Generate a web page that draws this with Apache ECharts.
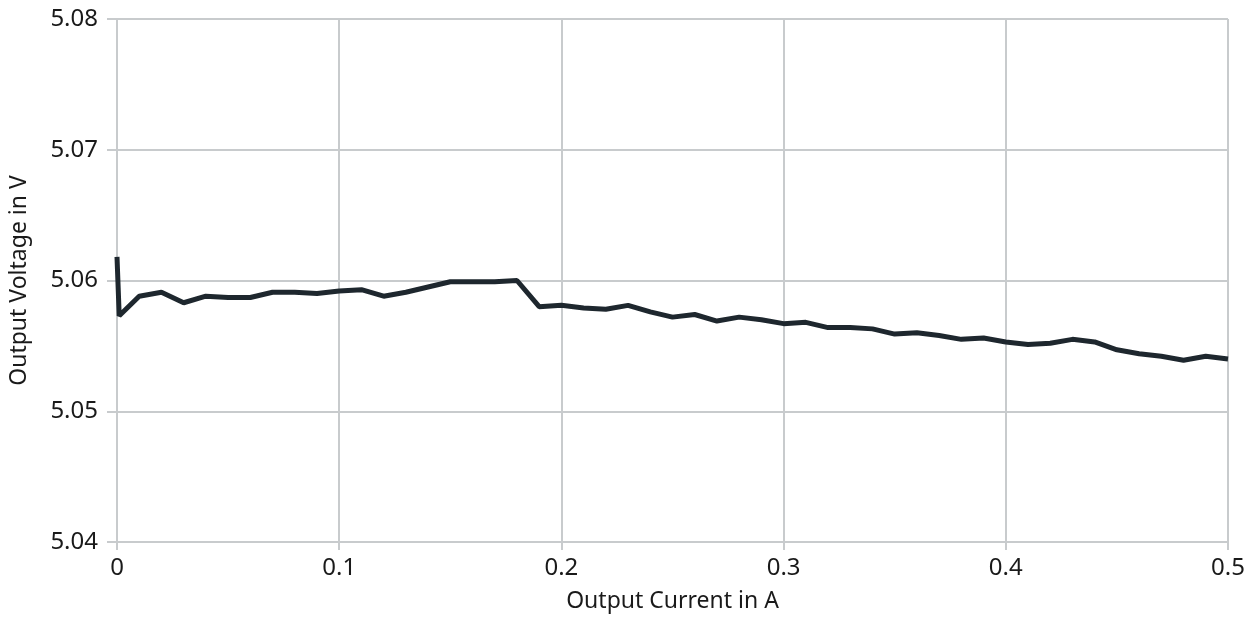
<!DOCTYPE html>
<html>
<head>
<meta charset="utf-8">
<script src="https://cdn.jsdelivr.net/npm/echarts@6/dist/echarts.min.js"></script>
<style>
  html, body { margin: 0; padding: 0; background: #fff; }
  #chart { width: 1255px; height: 624px; }
</style>
</head>
<body>
<div id="chart"></div>
<script>
// output current in A
var current = [0, 0.001, 0.01, 0.02, 0.03, 0.04, 0.05, 0.06, 0.07, 0.08, 0.09,
  0.10, 0.11, 0.12, 0.13, 0.14, 0.15, 0.16, 0.17, 0.18, 0.19,
  0.20, 0.21, 0.22, 0.23, 0.24, 0.25, 0.26, 0.27, 0.28, 0.29,
  0.30, 0.31, 0.32, 0.33, 0.34, 0.35, 0.36, 0.37, 0.38, 0.39,
  0.40, 0.41, 0.42, 0.43, 0.44, 0.45, 0.46, 0.47, 0.48, 0.49, 0.50];

// output voltage in V
var voltage = [5.0618, 5.0573, 5.0588, 5.0591, 5.0583, 5.0588, 5.0587, 5.0587, 5.0591, 5.0591, 5.0590,
  5.0592, 5.0593, 5.0588, 5.0591, 5.0595, 5.0599, 5.0599, 5.0599, 5.0600, 5.0580,
  5.0581, 5.0579, 5.0578, 5.0581, 5.0576, 5.0572, 5.0574, 5.0569, 5.0572, 5.0570,
  5.0567, 5.0568, 5.0564, 5.0564, 5.0563, 5.0559, 5.0560, 5.0558, 5.0555, 5.0556,
  5.0553, 5.0551, 5.0552, 5.0555, 5.0553, 5.0547, 5.0544, 5.0542, 5.0539, 5.0542, 5.0540];

var gridColor = '#c8cbcd';
var textColor = '#1a1a1a';
var fontName = 'Noto Sans';

var chart = echarts.init(document.getElementById('chart'));

var option = {
  animation: false,
  grid: { left: 117, right: 27, top: 19, bottom: 82, outerBoundsMode: 'none', containLabel: false },
  xAxis: {
    type: 'value',
    min: 0,
    max: 0.5,
    interval: 0.1,
    name: 'Output Current in A',
    nameLocation: 'middle',
    nameGap: 48,
    nameTextStyle: { fontFamily: fontName, fontSize: 23, color: textColor },
    axisLine: { lineStyle: { color: gridColor, width: 2 } },
    axisTick: { show: true, length: 8, lineStyle: { color: gridColor, width: 2 } },
    axisLabel: { fontFamily: fontName, fontSize: 24, color: textColor, margin: 14 },
    splitLine: { show: true, lineStyle: { color: gridColor, width: 2 } }
  },
  yAxis: {
    type: 'value',
    min: 5.04,
    max: 5.08,
    interval: 0.01,
    name: 'Output Voltage in V',
    nameLocation: 'middle',
    nameGap: 86,
    nameTextStyle: { fontFamily: fontName, fontSize: 23, color: textColor },
    axisLine: { show: true, lineStyle: { color: gridColor, width: 2 } },
    axisTick: { show: true, length: 10, lineStyle: { color: gridColor, width: 2 } },
    axisLabel: {
      fontFamily: fontName, fontSize: 24, color: textColor, margin: 19,
      formatter: function (v) { return v.toFixed(2); }
    },
    splitLine: { show: true, lineStyle: { color: gridColor, width: 2 } }
  },
  series: [{
    type: 'line',
    data: current.map(function (c, i) { return [c, voltage[i]]; }),
    showSymbol: false,
    lineStyle: { color: '#1e272e', width: 5 }
  }]
};

chart.setOption(option);
</script>
</body>
</html>
